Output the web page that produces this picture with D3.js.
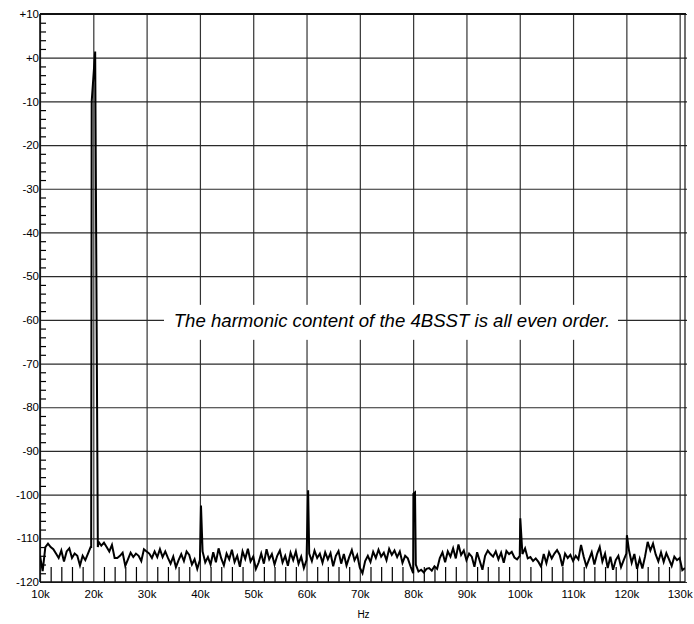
<!DOCTYPE html>
<html>
<head>
<meta charset="utf-8">
<script src="https://cdn.jsdelivr.net/npm/d3@7/dist/d3.min.js"></script>
<style>
  html, body { margin: 0; padding: 0; background: #fff; }
  svg { display: block; }
  text { font-family: "Liberation Sans", Arial, sans-serif; fill: #000; }
</style>
</head>
<body>
<svg id="chart" width="694" height="624"></svg>
<script>
// Spectrum of the 4BSST output: noise floor sampled every 0.5 kHz from 10 kHz
const noiseStartKHz = 10;
const noiseStepKHz = 0.5;
const noiseDb = [
  -114, -117.5, -112, -111.2, -112, -112.5, -113.5, -114.5, -112.8, -115.3,
  -113, -112.3, -114.5, -113.5, -114, -116.2, -114, -115, -113.5, -112,
  -112, -112, -110.8, -111.7, -111, -112, -113, -111.5, -114.5, -114.5,
  -114, -113.3, -116.3, -114.8, -113.3, -114.3, -113.5, -114, -115.2, -112.5,
  -113, -113.5, -114.5, -113, -114.3, -112.5, -114.3, -113, -114.5, -115.8,
  -114.2, -116.6, -115, -113.6, -115.2, -113, -113.8, -116, -114.8, -117,
  -115, -113, -115.5, -114.3, -116, -113.2, -115.5, -112.3, -114.6, -116.2,
  -113.5, -114.8, -112.6, -115.4, -114, -116.5, -113, -114.7, -112.4, -115.3,
  -114.2, -117, -115.6, -113.5, -115.8, -112.5, -114.8, -113.6, -116, -114,
  -112.8, -115.5, -114, -116.3, -113.3, -115, -113, -115.8, -114.2, -116.8,
  -115, -113.5, -115.2, -112.8, -114.5, -113.5, -115.6, -113.2, -114.8, -113.4,
  -116.4, -114, -112.9, -115.8, -113.6, -116.2, -114.3, -112.7, -115, -113.8,
  -116.7, -118, -115.2, -114, -115.4, -113.1, -114.5, -112.6, -114.2, -113.3,
  -115, -112.4, -113.8, -112.8, -114.3, -113, -115.6, -114, -114.6, -116.4,
  -118, -116, -117.6, -117.2, -117.8, -117, -116.8, -117.4, -116.4, -117,
  -114.5, -113.2, -115.5, -113, -114.2, -112.3, -114.6, -111.4, -113.8, -112.8,
  -115, -113.5, -114.2, -116.5, -113.2, -115.2, -117.2, -114, -112.8, -113.6,
  -114.2, -113, -114.8, -113.3, -115.6, -112.9, -113.6, -113.1, -114.4, -114.8,
  -114, -113.6, -112.3, -114.6, -114.3, -115.2, -114.6, -115.4, -116.5, -113.6,
  -115.7, -113.2, -114.6, -113.5, -112.7, -113.8, -116.4, -113.5, -114.5, -113.8,
  -115.2, -114, -114.8, -111.5, -114.2, -116.4, -114.8, -113.2, -116, -113.6,
  -112, -115.3, -113.5, -116.8, -114.2, -117.2, -115, -114, -116.6, -115,
  -113.5, -112.8, -115.6, -113.6, -117, -114.7, -116.9, -114.2, -110.8, -112.8,
  -111.2, -113.7, -115.3, -113.2, -115.4, -113.4, -114.8, -116.3, -114.2, -115,
  -114.5, -117.3, -116.8
];

// Fundamental near 20 kHz (outline of the main spike)
const fundamentalKHz = [19.6, 19.7, 20.35, 20.85];
const fundamentalDb = [-112, -10, 1.4, -112];

// Even-order harmonic peaks
const harmonicKHz = [40.2, 60.3, 80.05, 80.35, 100.1, 120.1];
const harmonicDb = [-102.5, -99, -99.8, -99.5, -105.4, -109.3];

// Axis ticks and labels
const xMajorKHz = [10, 20, 30, 40, 50, 60, 70, 80, 90, 100, 110, 120, 130];
const xTickLabels = ["10k", "20k", "30k", "40k", "50k", "60k", "70k", "80k", "90k", "100k", "110k", "120k", "130k"];
const yMajorDb = [10, 0, -10, -20, -30, -40, -50, -60, -70, -80, -90, -100, -110, -120];
const yTickLabels = ["+10", "+0", "-10", "-20", "-30", "-40", "-50", "-60", "-70", "-80", "-90", "-100", "-110", "-120"];
const xMinorStepKHz = 2;
const yMinorStepDb = 2;
const xTitle = "Hz";
const note = "The harmonic content of the 4BSST is all even order.";

// ---- layout ----
const plot = { left: 40, top: 14, right: 685, bottom: 582 };
const W = plot.right - plot.left, H = plot.bottom - plot.top;

const x = d3.scaleLinear().domain([10, 131]).range([plot.left, plot.right]);
const y = d3.scaleLinear().domain([-120, 10]).range([plot.bottom, plot.top]);

const svg = d3.select("#chart");

// build the trace: noise samples outside the fundamental plus all peaks
const fundLo = fundamentalKHz[0], fundHi = fundamentalKHz[fundamentalKHz.length - 1];
let trace = noiseDb.map((v, i) => ({ f: noiseStartKHz + i * noiseStepKHz, db: v }))
  .filter(p => p.f < fundLo || p.f > fundHi);
fundamentalKHz.forEach((f, i) => trace.push({ f, db: fundamentalDb[i] }));
harmonicKHz.forEach((f, i) => trace.push({ f, db: harmonicDb[i] }));
trace.sort((a, b) => a.f - b.f);

const xMinor = d3.range(10, 131, xMinorStepKHz).filter(v => v % 10 !== 0);
const yMinor = d3.range(-120, 10, yMinorStepDb).filter(v => v % 10 !== 0);

// grid lines
const gx = svg.append("g").attr("transform", `translate(0,${plot.bottom})`)
  .call(d3.axisBottom(x).tickValues(xMajorKHz).tickSize(-H).tickFormat(""));
gx.select(".domain").remove();
gx.selectAll("line").attr("stroke", "#333").attr("stroke-width", 1.2);

const gy = svg.append("g").attr("transform", `translate(${plot.left},0)`)
  .call(d3.axisLeft(y).tickValues(yMajorDb).tickSize(-(W + 2)).tickFormat(""));
gy.select(".domain").remove();
gy.selectAll("line").attr("stroke", "#2a2a2a").attr("stroke-width", 1.2);

// minor ticks
const mx = svg.append("g").attr("transform", `translate(0,${plot.bottom})`)
  .call(d3.axisBottom(x).tickValues(xMinor).tickSize(-15).tickFormat(""));
mx.select(".domain").remove();
mx.selectAll("line").attr("stroke", "#000").attr("stroke-width", 1.2);

const my = svg.append("g").attr("transform", `translate(${plot.left},0)`)
  .call(d3.axisLeft(y).tickValues(yMinor).tickSize(-6).tickFormat(""));
my.select(".domain").remove();
my.selectAll("line").attr("stroke", "#000").attr("stroke-width", 1.2);

// frame
svg.append("line").attr("x1", plot.left).attr("x2", plot.right + 1).attr("y1", plot.top).attr("y2", plot.top)
  .attr("stroke", "#111").attr("stroke-width", 1.8);
svg.append("line").attr("x1", plot.left).attr("x2", plot.right).attr("y1", plot.bottom).attr("y2", plot.bottom)
  .attr("stroke", "#111").attr("stroke-width", 1.6);
svg.append("line").attr("x1", plot.left).attr("x2", plot.left).attr("y1", plot.top).attr("y2", plot.bottom)
  .attr("stroke", "#111").attr("stroke-width", 1.6);
svg.append("line").attr("x1", plot.right).attr("x2", plot.right).attr("y1", plot.top).attr("y2", plot.bottom)
  .attr("stroke", "#111").attr("stroke-width", 1.2);

// spectrum trace
svg.append("defs").append("clipPath").attr("id", "clip")
  .append("rect").attr("x", plot.left).attr("y", plot.top).attr("width", W).attr("height", H);
svg.append("path")
  .datum(trace)
  .attr("clip-path", "url(#clip)")
  .attr("fill", "none")
  .attr("stroke", "#000")
  .attr("stroke-width", 2)
  .attr("stroke-linejoin", "miter")
  .attr("d", d3.line().x(d => x(d.f)).y(d => y(d.db)));

// tick labels
const lx = svg.append("g").attr("transform", `translate(0,${plot.bottom})`)
  .call(d3.axisBottom(x).tickValues(xMajorKHz).tickSize(0).tickPadding(8)
    .tickFormat((d, i) => xTickLabels[i]));
lx.select(".domain").remove();
lx.selectAll("text").attr("font-size", 11.5).attr("font-family", "Liberation Sans, Arial, sans-serif");

const ly = svg.append("g").attr("transform", `translate(${plot.left},0)`)
  .call(d3.axisLeft(y).tickValues(yMajorDb).tickSize(0).tickPadding(1)
    .tickFormat((d, i) => yTickLabels[i]));
ly.select(".domain").remove();
ly.selectAll("text").attr("font-size", 11.5).attr("font-family", "Liberation Sans, Arial, sans-serif");

// axis title
svg.append("text").attr("x", (plot.left + plot.right) / 2 + 1).attr("y", 618)
  .attr("text-anchor", "middle").attr("font-size", 10).text(xTitle);

// annotation on a white band over the -60 dB line
const noteY = y(-60);
svg.append("rect").attr("x", 164).attr("y", noteY - 15).attr("width", 454).attr("height", 35).attr("fill", "#fff");
svg.append("text").attr("x", 392).attr("y", noteY + 7)
  .attr("text-anchor", "middle").attr("font-size", 18.6).attr("font-style", "italic")
  .text(note);
</script>
</body>
</html>
